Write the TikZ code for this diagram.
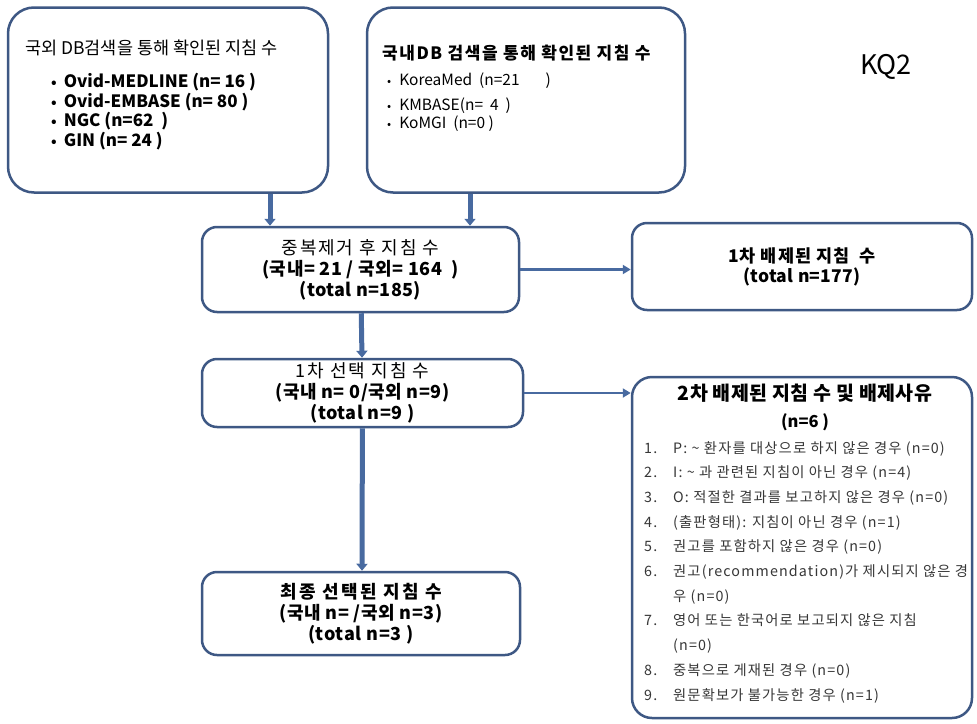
\documentclass[tikz,border=0pt]{standalone}
\usepackage{fontspec}
\setmainfont{Noto Sans CJK KR}
\usetikzlibrary{
  arrows.meta,
  chains,
  positioning,
  scopes
}
\definecolor{boxblue}{RGB}{62,88,132}
\definecolor{arrowblue}{RGB}{72,106,160}
\definecolor{itemgray}{RGB}{55,55,55}
\newcommand{\wide}[1]{\addfontfeature{LetterSpace=#1}}
\newcommand{\dotitem}[1]{{\fontsize{#1}{#1}\selectfont •}}

\begin{document}
\begin{tikzpicture}[
      x=1pt,y=-1pt,
      flowbox/.style={
         rectangle,
         rounded corners=15pt,
         line width=2.5pt,
         draw=boxblue,
         fill=white,
         align=center,
         inner sep=0pt,
         text=black
      },
      searchbox/.style={
         flowbox,
         rounded corners=26pt,
         minimum width=#1,
         minimum height=185pt
      },
      txt/.style={inner sep=0pt, anchor=base west, text=black},
      point/.style={coordinate},
      thick tip/.style={-{Triangle[width=11pt,length=7pt]},line width=5pt,draw=arrowblue},
      thin tip/.style={-{Triangle[width=9pt,length=8pt]},line width=2.5pt,draw=arrowblue},
      %text height=1.5ex,text depth=.25ex
    ]
    \useasboundingbox (0,0) rectangle (977,723);
    % search boxes
    \node (forDB) [searchbox=320pt] at (168,100) {};
    \node (korDB) [searchbox=318pt] at (526,100) {};
    \node (forTitle) [txt, font=\fontsize{17.5}{19}\selectfont] at (25,54) {국외 DB검색을 통해 확인된 지침 수};
    \node (forList) [txt, font=\bfseries\fontsize{17}{17.8}\selectfont] at (51,87.5) {%
      \begin{tabular}[t]{@{}l@{\hspace{7pt}}l@{}}
        \dotitem{14} & Ovid-MEDLINE (n= 16 )\\
        \dotitem{14} & Ovid-EMBASE (n= 80 )\\
        \dotitem{14} & NGC (n=62\ \ )\\
        \dotitem{14} & GIN (n= 24 )
      \end{tabular}};
    \node (korTitle) [txt, font=\bfseries\fontsize{17}{19}\selectfont\wide{9}] at (382,59) {국내DB 검색을 통해 확인된 지침 수};
    \node (korList) [txt, font=\fontsize{15.5}{17.5}\selectfont] at (387,85) {%
      \begin{tabular}[t]{@{}l@{\hspace{8pt}}l@{}}
        \dotitem{12} & KoreaMed\ \ (n=21\hspace{26pt})\\[7.5pt]
        \dotitem{12} & KMBASE(n=\ \ 4\ \ )\\
        \dotitem{12} & KoMGI\ \ (n=0 )
      \end{tabular}};
    \node (kq) [font=\fontsize{27}{30}\selectfont] at (886,67) {KQ2};
    % flow boxes
    \node (dedup) [flowbox, minimum width=317pt, minimum height=85pt,
        font=\fontsize{18}{21}\selectfont] at (360.5,269.5)
        {{\wide{10}중복제거 후 지침 수}\\{\bfseries\wide{3}(국내= 21 / 국외= 164\ \ )}\\{\bfseries\wide{2}(total n=185)}};
    \node (excl1) [flowbox, minimum width=340pt, minimum height=87pt,
        font=\bfseries\fontsize{17.5}{20}\selectfont] at (802,266.5)
        {{\wide{6}1차 배제된 지침\ \ 수}\\{\wide{2}(total n=177)}};
    \node (sel1) [flowbox, minimum width=321pt, minimum height=68pt,
        font=\fontsize{18}{21}\selectfont] at (362.5,393)
        {{\wide{11}1차 선택 지침 수}\\{\bfseries\wide{3}(국내 n= 0/국외 n=9)}\\{\bfseries\wide{3}(total n=9 )}};
    \node (excl2) [flowbox, rounded corners=20pt, minimum width=340pt, minimum height=341pt] at (802,547.5) {};
    \node (final) [flowbox, minimum width=318pt, minimum height=83pt,
        font=\bfseries\fontsize{18}{21}\selectfont] at (361,613.5)
        {{\wide{13}최종 선택된 지침 수}\\{\wide{3}(국내 n= /국외 n=3)}\\{\wide{4}(total n=3 )}};
    % reasons for second exclusion
    \node (exTitle) [txt, anchor=base, font=\bfseries\fontsize{19.5}{22}\selectfont] at (805,400) {\wide{2}2차 배제된 지침 수 및 배제사유};
    \node (exCount) [txt, anchor=base, font=\bfseries\fontsize{16.5}{20}\selectfont] at (805,427.5) {(n=6 )};
    \node (exList) [txt, text=itemgray, font=\fontsize{14.3}{24.7}\selectfont\wide{8}] at (644,453) {%
      \begin{tabular}[t]{@{}p{29pt}@{}l@{}}
        1. & P: \textasciitilde{} 환자를 대상으로 하지 않은 경우 (n=0)\\
        2. & I: \textasciitilde{} 과 관련된 지침이 아닌 경우 (n=4)\\
        3. & O: 적절한 결과를 보고하지 않은 경우 (n=0)\\
        4. & (출판형태): 지침이 아닌 경우 (n=1)\\
        5. & 권고를 포함하지 않은 경우 (n=0)\\
        6. & 권고(recommendation)가 제시되지 않은 경\\
           & 우 (n=0)\\
        7. & 영어 또는 한국어로 보고되지 않은 지침\\
           & (n=0)\\
        8. & 중복으로 게재된 경우 (n=0)\\
        9. & 원문확보가 불가능한 경우 (n=1)
      \end{tabular}};
    % connector points
    \coordinate (xFor) at (270,0);
    \coordinate (xKor) at (470,0);
    \node (a1) [point] at (forDB.south -| xFor) {};
    \node (a2) [point] at (dedup.north -| xFor) {};
    \node (b1) [point] at (korDB.south -| xKor) {};
    \node (b2) [point] at (dedup.north -| xKor) {};
    \node (c1) [point] at (excl1.west |- dedup.east) {};
    \node (e1) [point] at (sel1.north -| 362,0) {};
    \node (e2) [point] at (excl2.west |- sel1.east) {};
    \node (g1) [point] at (final.north -| 362,0) {};
  { [start chain]
       \chainin (a1);
       \chainin (a2)    [join=by thick tip];
  }
  { [start chain]
       \chainin (b1);
       \chainin (b2)    [join=by thick tip];
  }
  { [start chain]
       \chainin (dedup);
       \chainin (c1)    [join=by thin tip];
  }
  { [start chain]
       \chainin (dedup);
       \chainin (e1)    [join=by thick tip];
  }
  { [start chain]
       \chainin (sel1);
       \chainin (e2)    [join=by thin tip];
  }
  { [start chain]
       \chainin (sel1);
       \chainin (g1)    [join=by thick tip];
  }
\end{tikzpicture}
\end{document}
